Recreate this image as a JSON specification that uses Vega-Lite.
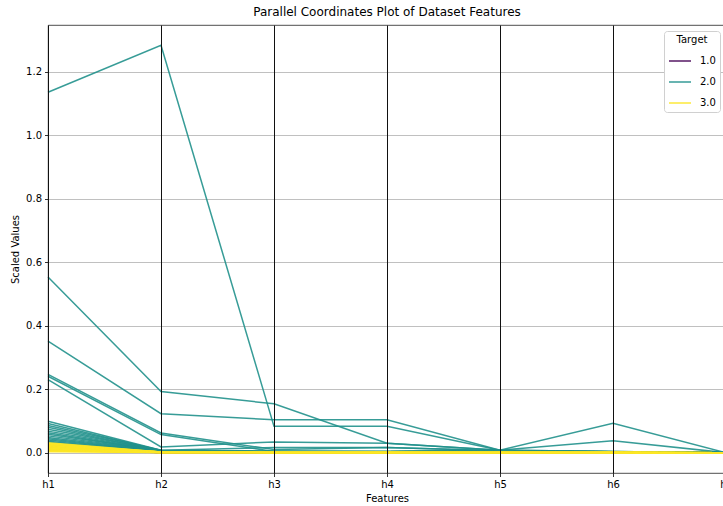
{
  "$schema": "https://vega.github.io/schema/vega-lite/v6.json",
  "width": 678,
  "height": 448,
  "autosize": {"type": "none"},
  "padding": {"left": 48, "top": 25, "right": 0, "bottom": 33},
  "background": "white",
  "title": {"text": "Parallel Coordinates Plot of Dataset Features", "fontSize": 12, "font": "DejaVu Sans", "fontWeight": "normal", "color": "black", "offset": 6},
  "config": {"view": {"stroke": "#222222", "strokeWidth": 0.8}, "font": "DejaVu Sans"},
  "data": {"values": [
    {"id": 1, "target": "1.0", "h1": 0.025, "h2": 0.002, "h3": 0.001, "h4": 0.001, "h5": 0.001, "h6": 0.001, "h7": 0.0},
    {"id": 2, "target": "1.0", "h1": 0.021, "h2": 0.002, "h3": 0.001, "h4": 0.001, "h5": 0.001, "h6": 0.001, "h7": 0.0},
    {"id": 3, "target": "1.0", "h1": 0.018, "h2": 0.002, "h3": 0.001, "h4": 0.001, "h5": 0.001, "h6": 0.001, "h7": 0.0},
    {"id": 4, "target": "1.0", "h1": 0.015, "h2": 0.001, "h3": 0.001, "h4": 0.001, "h5": 0.001, "h6": 0.001, "h7": 0.0},
    {"id": 5, "target": "1.0", "h1": 0.012, "h2": 0.001, "h3": 0.001, "h4": 0.001, "h5": 0.001, "h6": 0.001, "h7": 0.0},
    {"id": 6, "target": "1.0", "h1": 0.008, "h2": 0.001, "h3": 0.001, "h4": 0.001, "h5": 0.001, "h6": 0.001, "h7": 0.0},
    {"id": 10, "target": "2.0", "h1": 1.136, "h2": 1.284, "h3": 0.083, "h4": 0.083, "h5": 0.008, "h6": 0.004, "h7": 0.0},
    {"id": 11, "target": "2.0", "h1": 0.554, "h2": 0.193, "h3": 0.154, "h4": 0.03, "h5": 0.008, "h6": 0.038, "h7": 0.0},
    {"id": 12, "target": "2.0", "h1": 0.352, "h2": 0.123, "h3": 0.104, "h4": 0.104, "h5": 0.008, "h6": 0.093, "h7": 0.0},
    {"id": 13, "target": "2.0", "h1": 0.247, "h2": 0.062, "h3": 0.01, "h4": 0.016, "h5": 0.006, "h6": 0.003, "h7": 0.0},
    {"id": 14, "target": "2.0", "h1": 0.241, "h2": 0.057, "h3": 0.004, "h4": 0.004, "h5": 0.004, "h6": 0.002, "h7": 0.0},
    {"id": 15, "target": "2.0", "h1": 0.23, "h2": 0.018, "h3": 0.034, "h4": 0.03, "h5": 0.008, "h6": 0.004, "h7": 0.0},
    {"id": 16, "target": "2.0", "h1": 0.099, "h2": 0.008, "h3": 0.016, "h4": 0.016, "h5": 0.006, "h6": 0.003, "h7": 0.001},
    {"id": 17, "target": "2.0", "h1": 0.092, "h2": 0.007, "h3": 0.003, "h4": 0.003, "h5": 0.005, "h6": 0.002, "h7": 0.0},
    {"id": 18, "target": "2.0", "h1": 0.086, "h2": 0.008, "h3": 0.005, "h4": 0.004, "h5": 0.006, "h6": 0.003, "h7": 0.001},
    {"id": 19, "target": "2.0", "h1": 0.08, "h2": 0.006, "h3": 0.003, "h4": 0.003, "h5": 0.005, "h6": 0.002, "h7": 0.0},
    {"id": 20, "target": "2.0", "h1": 0.074, "h2": 0.007, "h3": 0.004, "h4": 0.004, "h5": 0.006, "h6": 0.003, "h7": 0.0},
    {"id": 21, "target": "2.0", "h1": 0.068, "h2": 0.006, "h3": 0.003, "h4": 0.003, "h5": 0.005, "h6": 0.002, "h7": 0.0},
    {"id": 22, "target": "2.0", "h1": 0.063, "h2": 0.005, "h3": 0.003, "h4": 0.003, "h5": 0.005, "h6": 0.002, "h7": 0.0},
    {"id": 23, "target": "2.0", "h1": 0.058, "h2": 0.006, "h3": 0.004, "h4": 0.003, "h5": 0.005, "h6": 0.002, "h7": 0.0},
    {"id": 24, "target": "2.0", "h1": 0.053, "h2": 0.005, "h3": 0.003, "h4": 0.003, "h5": 0.004, "h6": 0.002, "h7": 0.0},
    {"id": 25, "target": "2.0", "h1": 0.048, "h2": 0.005, "h3": 0.003, "h4": 0.002, "h5": 0.004, "h6": 0.002, "h7": 0.0},
    {"id": 26, "target": "2.0", "h1": 0.044, "h2": 0.004, "h3": 0.002, "h4": 0.002, "h5": 0.004, "h6": 0.002, "h7": 0.0},
    {"id": 27, "target": "2.0", "h1": 0.04, "h2": 0.004, "h3": 0.003, "h4": 0.002, "h5": 0.004, "h6": 0.002, "h7": 0.0},
    {"id": 28, "target": "2.0", "h1": 0.036, "h2": 0.003, "h3": 0.002, "h4": 0.002, "h5": 0.003, "h6": 0.002, "h7": 0.0},
    {"id": 29, "target": "2.0", "h1": 0.033, "h2": 0.003, "h3": 0.002, "h4": 0.002, "h5": 0.003, "h6": 0.001, "h7": 0.0},
    {"id": 50, "target": "3.0", "h1": 0.031, "h2": 0.002, "h3": 0.001, "h4": 0.001, "h5": 0.001, "h6": 0.001, "h7": 0.0},
    {"id": 51, "target": "3.0", "h1": 0.029, "h2": 0.002, "h3": 0.001, "h4": 0.001, "h5": 0.001, "h6": 0.001, "h7": 0.0},
    {"id": 52, "target": "3.0", "h1": 0.027, "h2": 0.002, "h3": 0.001, "h4": 0.001, "h5": 0.001, "h6": 0.001, "h7": 0.0},
    {"id": 53, "target": "3.0", "h1": 0.025, "h2": 0.002, "h3": 0.001, "h4": 0.001, "h5": 0.001, "h6": 0.001, "h7": 0.0},
    {"id": 54, "target": "3.0", "h1": 0.023, "h2": 0.002, "h3": 0.001, "h4": 0.001, "h5": 0.001, "h6": 0.001, "h7": 0.0},
    {"id": 55, "target": "3.0", "h1": 0.021, "h2": 0.002, "h3": 0.001, "h4": 0.001, "h5": 0.001, "h6": 0.001, "h7": 0.0},
    {"id": 56, "target": "3.0", "h1": 0.019, "h2": 0.002, "h3": 0.001, "h4": 0.001, "h5": 0.001, "h6": 0.001, "h7": 0.0},
    {"id": 57, "target": "3.0", "h1": 0.017, "h2": 0.001, "h3": 0.001, "h4": 0.001, "h5": 0.001, "h6": 0.001, "h7": 0.0},
    {"id": 58, "target": "3.0", "h1": 0.015, "h2": 0.001, "h3": 0.001, "h4": 0.001, "h5": 0.001, "h6": 0.001, "h7": 0.0},
    {"id": 59, "target": "3.0", "h1": 0.013, "h2": 0.001, "h3": 0.001, "h4": 0.001, "h5": 0.001, "h6": 0.001, "h7": 0.0},
    {"id": 60, "target": "3.0", "h1": 0.011, "h2": 0.001, "h3": 0.001, "h4": 0.001, "h5": 0.001, "h6": 0.001, "h7": 0.0},
    {"id": 61, "target": "3.0", "h1": 0.009, "h2": 0.001, "h3": 0.001, "h4": 0.001, "h5": 0.001, "h6": 0.001, "h7": 0.0},
    {"id": 62, "target": "3.0", "h1": 0.007, "h2": 0.001, "h3": 0.001, "h4": 0.001, "h5": 0.001, "h6": 0.001, "h7": 0.0},
    {"id": 63, "target": "3.0", "h1": 0.005, "h2": 0.001, "h3": 0.001, "h4": 0.001, "h5": 0.001, "h6": 0.001, "h7": 0.0},
    {"id": 64, "target": "3.0", "h1": 0.003, "h2": 0.001, "h3": 0.0, "h4": 0.0, "h5": 0.0, "h6": 0.0, "h7": 0.0}
  ]},
  "transform": [{"fold": ["h1", "h2", "h3", "h4", "h5", "h6", "h7"], "as": ["feature", "value"]}],
  "encoding": {
    "x": {"field": "feature", "type": "ordinal",
      "scale": {"type": "point", "padding": 0, "domain": ["h1", "h2", "h3", "h4", "h5", "h6", "h7"]},
      "axis": {"title": "Features", "titleFontSize": 10, "titleFontWeight": "normal", "titleColor": "black", "titlePadding": 4,
        "labelAngle": 0, "labelFontSize": 10, "labelColor": "black", "labelPadding": 3,
        "tickSize": 3.5, "tickColor": "black", "tickWidth": 0.8, "domain": false,
        "grid": true, "gridColor": "#111111", "gridWidth": 1, "gridOpacity": 1, "zindex": 1}},
    "y": {"field": "value", "type": "quantitative",
      "scale": {"domain": [-0.064, 1.348], "nice": false, "zero": false},
      "axis": {"title": "Scaled Values", "titleFontSize": 10, "titleFontWeight": "normal", "titleColor": "black", "titlePadding": 5,
        "values": [0, 0.2, 0.4, 0.6, 0.8, 1.0, 1.2], "format": ".1f",
        "labelFontSize": 10, "labelColor": "black", "labelPadding": 3,
        "tickSize": 3.5, "tickColor": "black", "tickWidth": 0.8, "domain": false,
        "grid": true, "gridColor": "#b0b0b0", "gridWidth": 0.8, "gridOpacity": 1}},
    "color": {"field": "target", "type": "nominal",
      "scale": {"domain": ["1.0", "2.0", "3.0"], "range": ["#440154", "#21918c", "#fde725"]},
      "legend": {"title": "Target", "orient": "top-right", "offset": 6,
        "titleFontSize": 10, "titleFontWeight": "normal", "titleColor": "black", "titleAnchor": "middle", "titlePadding": 4,
        "labelFontSize": 10, "labelColor": "black", "labelOffset": 8,
        "symbolType": "stroke", "symbolStrokeWidth": 1.5, "symbolSize": 484,
        "fillColor": "white", "strokeColor": "#d0d0d0", "padding": 4, "cornerRadius": 3, "rowPadding": 4}},
    "detail": {"field": "id", "type": "nominal"}
  },
  "layer": [
    {"transform": [{"filter": "datum.target === '1.0'"}], "mark": {"type": "line", "strokeWidth": 1.5, "opacity": 0.9}},
    {"transform": [{"filter": "datum.target === '2.0'"}], "mark": {"type": "line", "strokeWidth": 1.5, "opacity": 0.9}},
    {"transform": [{"filter": "datum.target === '3.0'"}], "mark": {"type": "line", "strokeWidth": 1.5, "opacity": 0.9}}
  ]
}
